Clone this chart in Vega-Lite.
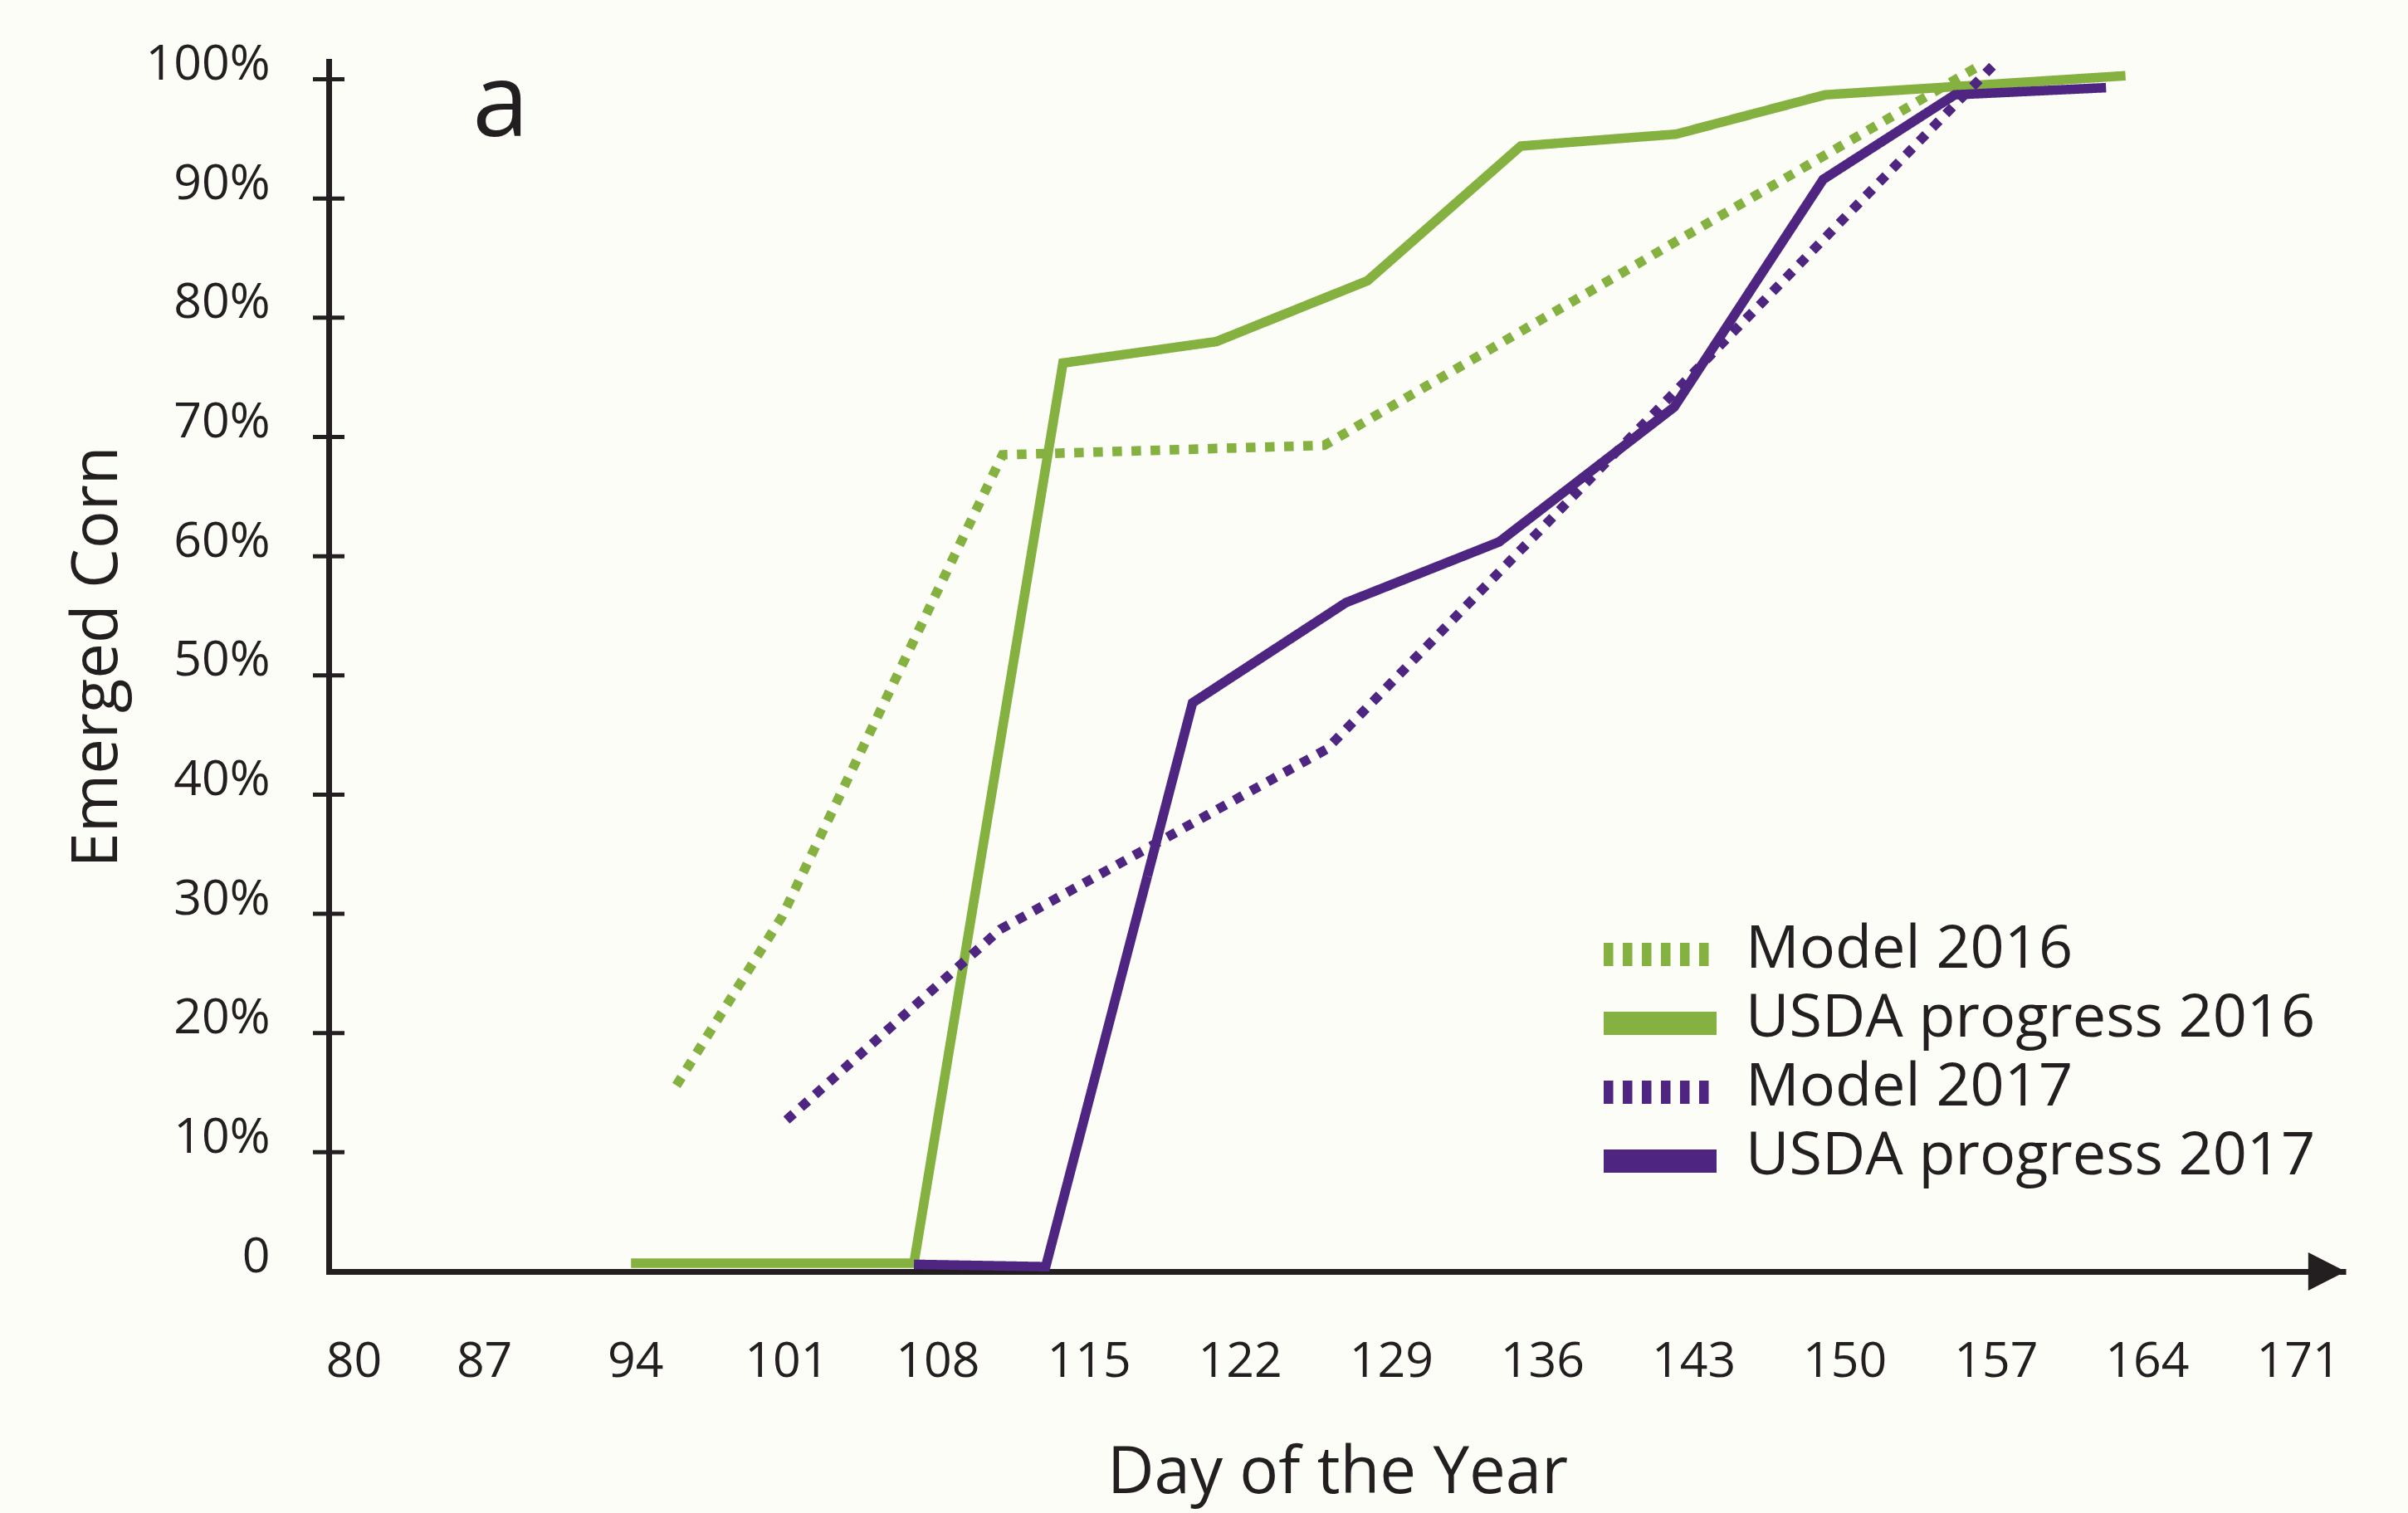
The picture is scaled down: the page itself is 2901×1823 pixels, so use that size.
{
  "$schema": "https://vega.github.io/schema/vega-lite/v6.json",
  "width": 2430,
  "height": 1458,
  "autosize": {"type": "none"},
  "padding": {"left": 396, "top": 74, "right": 75, "bottom": 291},
  "background": "#fdfdf8",
  "config": {"view": {"stroke": null}, "font": "Open Sans"},
  "datasets": {
    "series": [
      {"series": "Model 2016", "day": 96.1, "pct": 15.6},
      {"series": "Model 2016", "day": 101.0, "pct": 29.8},
      {"series": "Model 2016", "day": 111.2, "pct": 68.5},
      {"series": "Model 2016", "day": 126.1, "pct": 69.3},
      {"series": "Model 2016", "day": 156.5, "pct": 101.2},
      {"series": "USDA progress 2016", "day": 94.0, "pct": 0.7},
      {"series": "USDA progress 2016", "day": 107.1, "pct": 0.7},
      {"series": "USDA progress 2016", "day": 114.0, "pct": 76.2},
      {"series": "USDA progress 2016", "day": 121.1, "pct": 78.0},
      {"series": "USDA progress 2016", "day": 128.1, "pct": 83.1},
      {"series": "USDA progress 2016", "day": 135.2, "pct": 94.4},
      {"series": "USDA progress 2016", "day": 142.4, "pct": 95.4},
      {"series": "USDA progress 2016", "day": 149.3, "pct": 98.7},
      {"series": "USDA progress 2016", "day": 156.3, "pct": 99.5},
      {"series": "USDA progress 2016", "day": 163.2, "pct": 100.3},
      {"series": "Model 2017", "day": 101.2, "pct": 12.7},
      {"series": "Model 2017", "day": 111.1, "pct": 28.7},
      {"series": "Model 2017", "day": 126.2, "pct": 43.8},
      {"series": "Model 2017", "day": 157.2, "pct": 101.4},
      {"series": "USDA progress 2017", "day": 107.1, "pct": 0.6},
      {"series": "USDA progress 2017", "day": 113.2, "pct": 0.4},
      {"series": "USDA progress 2017", "day": 120.0, "pct": 47.7},
      {"series": "USDA progress 2017", "day": 127.1, "pct": 56.1},
      {"series": "USDA progress 2017", "day": 134.2, "pct": 61.2},
      {"series": "USDA progress 2017", "day": 142.3, "pct": 72.5},
      {"series": "USDA progress 2017", "day": 149.2, "pct": 91.6},
      {"series": "USDA progress 2017", "day": 155.3, "pct": 98.7},
      {"series": "USDA progress 2017", "day": 162.3, "pct": 99.3}
    ],
    "yticks": [
      {"pct": 10}, {"pct": 20}, {"pct": 30}, {"pct": 40}, {"pct": 50},
      {"pct": 60}, {"pct": 70}, {"pct": 80}, {"pct": 90}, {"pct": 100}
    ]
  },
  "layer": [
    {
      "data": {"name": "series"},
      "mark": {"type": "line", "strokeWidth": 11.5, "strokeJoin": "miter", "strokeCap": "butt"},
      "encoding": {
        "x": {
          "field": "day",
          "type": "quantitative",
          "scale": {"domain": [80, 173.4], "nice": false, "zero": false},
          "axis": {
            "values": [80, 87, 94, 101, 108, 115, 122, 129, 136, 143, 150, 157, 164, 171],
            "ticks": false,
            "tickSize": 0,
            "grid": false,
            "labelPadding": 79,
            "labelFont": "Open Sans",
            "labelFontSize": 59,
            "labelColor": "#231f20",
            "labelOffset": {"condition": {"test": "datum.value == 80", "value": 30}, "value": 5},
            "labelFlush": false,
            "labelOverlap": false,
            "domainColor": "#231f20",
            "domainWidth": 7,
            "title": "Day of the Year",
            "titleFont": "Open Sans",
            "titleFontSize": 78,
            "titleFontWeight": "normal",
            "titleColor": "#231f20",
            "titlePadding": 66
          }
        },
        "y": {
          "field": "pct",
          "type": "quantitative",
          "scale": {"domain": [0, 101.5], "nice": false},
          "axis": {
            "values": [0, 10, 20, 30, 40, 50, 60, 70, 80, 90, 100],
            "labelExpr": "datum.value == 0 ? '0' : datum.value + '%'",
            "ticks": false,
            "tickSize": 0,
            "grid": false,
            "labelPadding": 71,
            "labelFont": "Open Sans",
            "labelFontSize": 59,
            "labelColor": "#231f20",
            "labelBaseline": "alphabetic",
            "labelFlush": false,
            "labelOverlap": false,
            "domainColor": "#231f20",
            "domainWidth": 7,
            "domainCap": "square",
            "title": "Emerged Corn",
            "titleFont": "Open Sans",
            "titleFontSize": 76,
            "titleFontWeight": "normal",
            "titleColor": "#231f20",
            "titlePadding": 40,
            "titleY": 717
          }
        },
        "color": {
          "field": "series",
          "type": "nominal",
          "scale": {
            "domain": ["Model 2016", "USDA progress 2016", "Model 2017", "USDA progress 2017"],
            "range": ["#84b140", "#84b140", "#4f2582", "#4f2582"]
          },
          "legend": {
            "orient": "none",
            "legendX": 1536,
            "legendY": 1040,
            "title": null,
            "padding": 0,
            "symbolType": "M-4.857,0L4.857,0",
            "symbolSize": 784,
            "symbolStrokeWidth": 28,
            "symbolOffset": 32,
            "labelOffset": 67,
            "labelFont": "Open Sans",
            "labelFontSize": 72,
            "labelColor": "#231f20",
            "labelLimit": 0,
            "rowPadding": 11,
            "encode": {
              "symbols": {
                "update": {
                  "strokeDash": {"signal": "indexof(datum.label, 'Model') == 0 ? [28, 8] : [1, 0]"},
                  "strokeWidth": {"value": 28},
                  "strokeJoin": {"value": "bevel"},
                  "strokeCap": {"value": "butt"},
                  "fill": {"value": "transparent"}
                }
              },
              "labels": {
                "update": {
                  "dy": {"value": -6}
                }
              }
            }
          }
        },
        "strokeDash": {
          "field": "series",
          "type": "nominal",
          "scale": {
            "domain": ["Model 2016", "USDA progress 2016", "Model 2017", "USDA progress 2017"],
            "range": [[11.5, 11.5], [1, 0], [11.5, 11.5], [1, 0]]
          },
          "legend": null
        }
      }
    },
    {
      "data": {"name": "yticks"},
      "mark": {"type": "tick", "orient": "horizontal", "size": 38, "thickness": 5, "color": "#231f20", "opacity": 1},
      "encoding": {
        "y": {"field": "pct", "type": "quantitative"},
        "x": {"datum": 80}
      }
    },
    {
      "data": {"values": [{}]},
      "mark": {"type": "point", "shape": "M-0.98,-1L0.98,0L-0.98,1Z", "size": 2116, "filled": true, "color": "#231f20", "opacity": 1},
      "encoding": {
        "x": {"datum": 172.53},
        "y": {"datum": 0}
      }
    },
    {
      "data": {"values": [{"label": "a"}]},
      "mark": {"type": "text", "font": "Open Sans", "fontSize": 122, "color": "#231f20", "align": "center", "baseline": "alphabetic"},
      "encoding": {
        "text": {"field": "label"},
        "x": {"datum": 87.96},
        "y": {"datum": 95.23}
      }
    }
  ]
}
